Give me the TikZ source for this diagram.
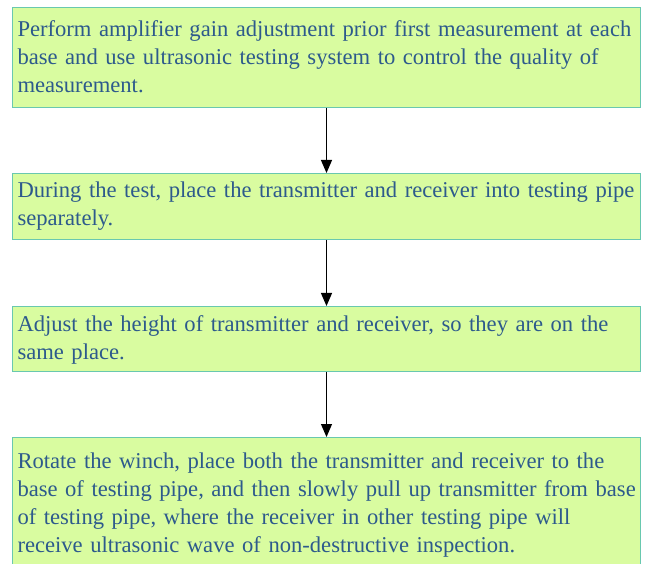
\documentclass[tikz,border=0pt]{standalone}
\usepackage{fontspec}
\setmainfont{Liberation Serif}
\usepackage{xcolor}
\usetikzlibrary{arrows.meta,positioning}

\definecolor{stepfill}{RGB}{217,252,160}
\definecolor{stepline}{RGB}{105,200,175}
\definecolor{steptext}{RGB}{45,90,140}

% room above the first line and below the last line
\newcommand{\linetop}[1]{\rule{0pt}{#1}}
\newcommand{\linebot}[1]{\rule[-#1]{0pt}{0pt}}

\tikzset{
  stepbox/.style={draw=stepline, fill=stepfill, line width=1pt,
    text=steptext, align=left, text width=618pt, inner xsep=5pt, inner ysep=0pt,
    minimum width=628pt, font=\fontsize{22.6}{28}\selectfont},
  flow/.style={-{Triangle[width=11pt,length=13pt]}, line width=1pt}
}

\begin{document}
\begin{tikzpicture}[x=1pt,y=1pt]
    \useasboundingbox (0,0) rectangle (646,-564);
    \node[stepbox, anchor=north west] (gain) at (12,-7)
        {\linetop{29pt}\mbox{Perform amplifier gain adjustment prior first measurement at each}\\
         \mbox{base and use ultrasonic testing system to control the quality of}\\
         \mbox{measurement.}\linebot{15pt}};
    \node[stepbox, below=65pt of gain] (place)
        {\linetop{24.5pt}\mbox{During the test, place the transmitter and receiver into testing pipe}\\
         \mbox{separately.}\linebot{13.5pt}};
    \node[stepbox, below=66pt of place] (height)
        {\linetop{25pt}\mbox{Adjust the height of transmitter and receiver, so they are on the}\\
         \mbox{same place.}\linebot{12pt}};
    \node[stepbox, below=65pt of height] (winch)
        {\linetop{30.5pt}\mbox{Rotate the winch, place both the transmitter and receiver to the}\\
         \mbox{base of testing pipe, and then slowly pull up transmitter from base}\\
         \mbox{of testing pipe, where the receiver in other testing pipe will}\\
         \mbox{receive ultrasonic wave of non-destructive inspection.}\linebot{16pt}};

    % arrows between steps
    \draw[flow] (gain) -- (place);
    \draw[flow] (place) -- (height);
    \draw[flow] (height) -- (winch);
\end{tikzpicture}
\end{document}
